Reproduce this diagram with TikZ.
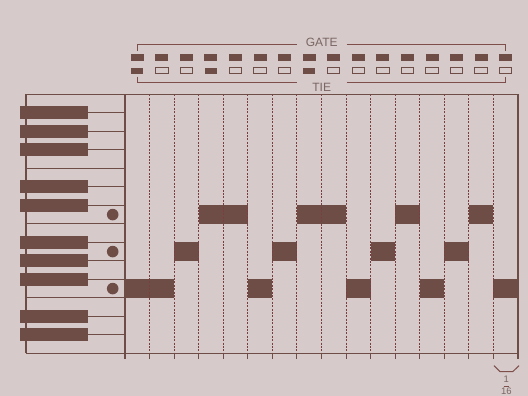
\documentclass[tikz,border=0pt]{standalone}
\usepackage{fontspec}
\setmainfont{Liberation Sans}
\definecolor{bgc}{HTML}{D6CACA}
\definecolor{dk}{HTML}{6E4D46}
\definecolor{ln}{HTML}{6E4D46}
\definecolor{dsh}{HTML}{7A3E3E}
\definecolor{txt}{HTML}{7A6662}
\definecolor{brk}{HTML}{7E4E4B}
\tikzset{
  solidline/.style={draw=ln, line width=1.3pt},
  dashline/.style={draw=dsh, line width=1pt, dash pattern=on 2pt off 1.4pt},
  blackkey/.style={fill=dk, draw=none},
  notebar/.style={fill=dk, draw=none},
  gateon/.style={fill=dk, draw=none},
  tieoff/.style={fill=bgc, draw=dk, line width=1pt},
  brack/.style={draw=brk, line width=1pt},
  lbl/.style={text=txt, font=\fontsize{9.5}{10}\selectfont, inner sep=0pt},
  biglbl/.style={text=txt, font=\fontsize{12}{12}\selectfont, inner sep=0pt},
  dot/.style={fill=dk, draw=none}
}
\begin{document}
\begin{tikzpicture}[x=1pt,y=-1pt]
\useasboundingbox (0,0) rectangle (528,396);
\clip (0,0) rectangle (528,396);
\fill[bgc] (0,0) rectangle (528,396);
\def\cw{24.5625}
% note bars
\foreach \a/\b/\yy in {0/2/279.3, 2/3/242.3, 3/5/205.3, 5/6/279.3, 6/7/242.3, 7/9/205.3, 9/10/279.3, 10/11/242.3, 11/12/205.3, 12/13/279.3, 13/14/242.3, 14/15/205.3, 15/16/279.3}
  \fill[notebar] ({125+\a*\cw},\yy) rectangle ({125+\b*\cw},{\yy+18.5});
% dashed grid lines
\foreach \i in {1,...,15}
  \draw[dashline] ({125+\i*\cw},94.3) -- ({125+\i*\cw},353.3);
\foreach \i in {1,...,15}
  \draw[solidline, line width=1pt] ({125+\i*\cw},353.3) -- ({125+\i*\cw},359.3);
% frame
\draw[solidline] (26,94.3) -- (518,94.3);
\draw[solidline] (26,353.3) -- (518,353.3);
\draw[solidline] (26,94.3) -- (26,353.3);
\draw[solidline] (125,94.3) -- (125,359.3);
\draw[solidline] (518,94.3) -- (518,359.3);
% white key boundaries
\foreach \yy in {168.3, 223.8, 297.8}
  \draw[solidline] (26,\yy) -- (125,\yy);
% black keys
\foreach \yy in {112.8, 131.3, 149.8, 186.8, 205.3, 242.3, 260.8, 279.3, 316.3, 334.8} {
  \draw[solidline] (88,\yy) -- (125,\yy);
  \fill[blackkey] (20,{\yy-6.4}) rectangle (88.3,{\yy+6.4});
}
% dots
\foreach \yy in {214.6, 251.6, 288.6}
  \fill[dot] (112.7,\yy) circle (5.8);
% gate and tie boxes
\foreach \i in {0,...,15} {
  \fill[gateon] ({125+(\i+0.5)*\cw-6.5},54.3) rectangle ({125+(\i+0.5)*\cw+6.5},61);
}
\foreach \i in {0,...,15} {
  \ifnum\i=0 \def\st{gateon}\else\ifnum\i=3 \def\st{gateon}\else\ifnum\i=7 \def\st{gateon}\else\def\st{tieoff}\fi\fi\fi
  \path[\st] ({125+(\i+0.5)*\cw-6.2},67.6) rectangle ({125+(\i+0.5)*\cw+6.2},73.7);
}
% brackets
\node[biglbl] (gate) at (321.7,42.3) {GATE};
\node[biglbl] (tie) at (321.7,87) {TIE};
\draw[brack] (137.3,51) -- (137.3,45) -- (296.7,45);
\draw[brack] (346.7,45) -- (505.7,45) -- (505.7,51);
\draw[brack] (137.3,76.7) -- (137.3,82.3) -- (296.7,82.3);
\draw[brack] (346.7,82.3) -- (505.7,82.3) -- (505.7,76.7);
% 1/16 label
\draw[brack] (494,365.7) -- (500,371.7) -- (512.7,371.7) -- (519,365.7);
\node[lbl] (one) at (506.3,379.5) {1};
\draw[brack, line width=0.8pt] (503.5,386) -- (509.3,386);
\node[lbl, anchor=north] (sixteen) at (506.3,388) {16};
\end{tikzpicture}
\end{document}
